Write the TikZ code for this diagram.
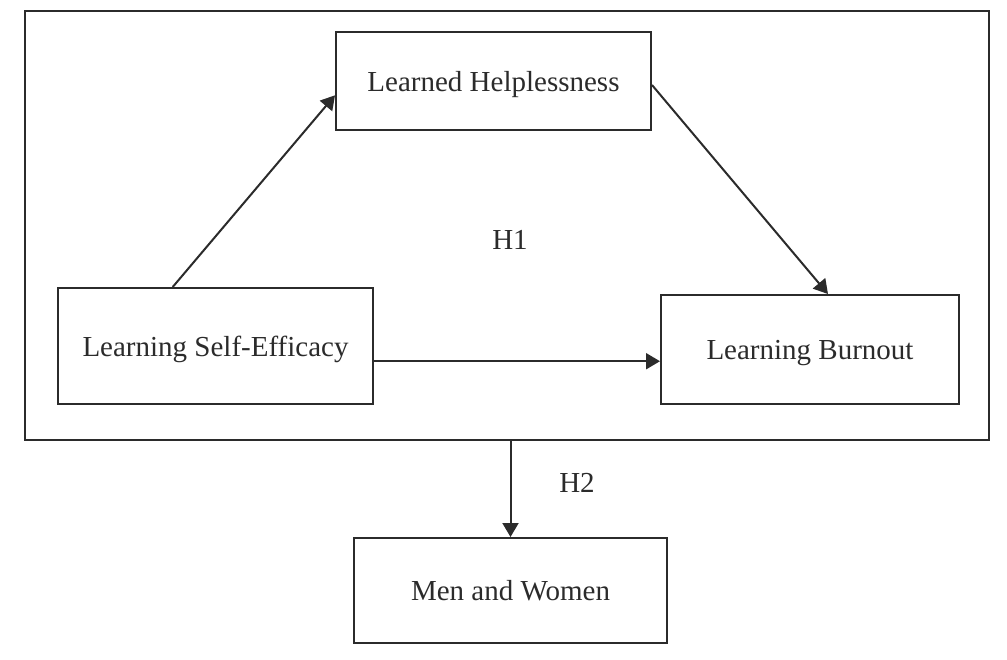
\documentclass[tikz,border=0pt]{standalone}
\usepackage{fontspec}
\setmainfont{Liberation Serif}
\usetikzlibrary{arrows.meta,calc}
\definecolor{ink}{HTML}{2B2B2B}
\begin{document}
\begin{tikzpicture}[x=0.5pt,y=-0.5pt,
  box/.style={draw=ink,line width=1pt,inner sep=0pt,text height=12pt,text depth=2pt,font=\fontsize{14.5}{17}\selectfont,text=ink},
  arr/.style={draw=ink,line width=1pt,-{Triangle[length=7pt,width=8pt]}},
  lbl/.style={font=\fontsize{14.5}{17}\selectfont,text=ink,inner sep=0pt}]
\useasboundingbox (0,0) rectangle (1007,659);
\node[draw=ink,line width=1pt,minimum width=482pt,minimum height=214.5pt,inner sep=0pt] (frame) at (507,225.5) {};
\node[box,minimum width=157.5pt,minimum height=49pt] (lh) at (493.5,81) {Learned Helplessness};
\node[box,minimum width=157.5pt,minimum height=58pt] (lse) at (215.5,346) {Learning Self-Efficacy};
\node[box,minimum width=149pt,minimum height=54.5pt] (lb) at (810,349.5) {Learning Burnout};
\node[box,minimum width=156.5pt,minimum height=52.5pt] (mw) at (510.5,590.5) {Men and Women};
\node[lbl] (h1) at (510,240) {H1};
\node[lbl] (h2) at (577,483) {H2};
\draw[arr] ($(lse.north west)!0.365!(lse.north east)$) -- ($(lh.north west)!0.643!(lh.south west)$);
\draw[arr] ($(lh.north east)!0.54!(lh.south east)$) -- ($(lb.north west)!0.56!(lb.north east)$);
\coordinate (s) at ($(lse.north east)!0.629!(lse.south east)$);
\draw[arr] (s) -- (s -| lb.west);
\draw[arr] (frame.south -| mw.north) -- (mw.north);
\end{tikzpicture}
\end{document}
